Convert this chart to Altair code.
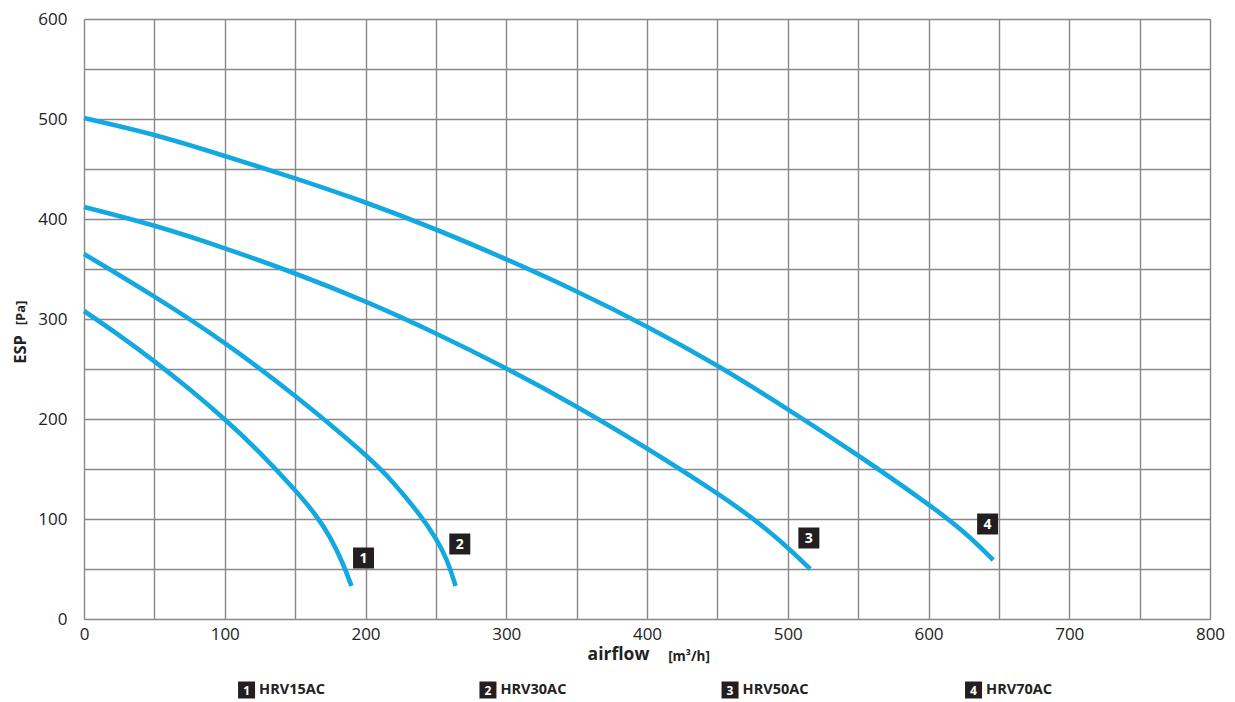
import altair as alt
import pandas as pd

# ---- data ----
c1_x = [0, 25, 50, 75, 100, 125, 150, 165, 175, 184, 190]
c1_y = [308, 284, 258, 230, 200, 167, 129, 104, 82, 56, 33]

c2_x = [0, 50, 100, 150, 200, 220, 240, 250, 258, 264]
c2_y = [365, 323, 277, 224, 165, 137, 102, 81, 60, 33]

c3_x = [0, 50, 100, 150, 200, 250, 300, 350, 400, 450, 475, 495, 516]
c3_y = [412, 394, 371, 346, 318, 286, 251, 213, 171, 126, 101, 78, 50]

c4_x = [0, 50, 100, 150, 200, 250, 300, 350, 400, 450, 500, 550, 600, 625, 646]
c4_y = [501, 485, 463, 441, 417, 390, 360, 328, 293, 254, 210, 164, 115, 88, 59]

series_ids = ["1", "2", "3", "4"]
series_names = ["HRV15AC", "HRV30AC", "HRV50AC", "HRV70AC"]

# number badges next to curve ends (data units)
badge_x = [198.6, 267, 515, 642]
badge_y = [61, 75, 81, 95]

# legend row below the axis (data units)
legend_x = [115.5, 287, 459, 632]
legend_y = [-71, -71, -71, -71]

x_ticks = list(range(0, 801, 50))
y_ticks = list(range(0, 601, 50))

BLUE = "#13a8e0"
GRID = "#888888"
FONT = "Open Sans"

rows = []
for sid, xs, ys in zip(series_ids, [c1_x, c2_x, c3_x, c4_x], [c1_y, c2_y, c3_y, c4_y]):
    for i, (a, b) in enumerate(zip(xs, ys)):
        rows.append({"series": sid, "order": i, "airflow": a, "esp": b})
curves = pd.DataFrame(rows)

badges = pd.DataFrame({"id": series_ids, "x": badge_x, "y": badge_y})
legend = pd.DataFrame({"id": series_ids, "name": series_names, "x": legend_x, "y": legend_y})

xscale = alt.Scale(domain=[0, 800], nice=False, zero=False)
yscale = alt.Scale(domain=[0, 600], nice=False, zero=False)

x_axis = alt.Axis(values=x_ticks, labelExpr="datum.value % 100 == 0 ? datum.label : ''",
                  grid=True, gridColor=GRID, gridWidth=1.4, gridOpacity=1,
                  ticks=False, domain=False, labelPadding=7, labelFontSize=17,
                  labelFlush=False, labelOverlap=False,
                  labelFont=FONT, labelColor="#222", title="airflow",
                  titleFont=FONT, titleFontSize=17.5, titleFontWeight="bold",
                  titleColor="#222", titleX=534, titleAlign="center", titlePadding=3)
y_axis = alt.Axis(values=y_ticks, labelExpr="datum.value % 100 == 0 ? datum.label : ''",
                  grid=True, gridColor=GRID, gridWidth=1.4, gridOpacity=1,
                  ticks=False, domain=False, labelPadding=17, labelFontSize=17,
                  labelFlush=False, labelOverlap=False,
                  labelFont=FONT, labelColor="#222", title="ESP",
                  titleFont=FONT, titleFontSize=16.5, titleFontWeight="bold",
                  titleColor="#222", titleAngle=270, titleX=-59, titleY=330,
                  titleAlign="center", titleBaseline="alphabetic")

lines = alt.Chart(curves).mark_line(color=BLUE, strokeWidth=4.6, interpolate="basis",
                                    strokeCap="butt").encode(
    x=alt.X("airflow:Q", scale=xscale, axis=x_axis),
    y=alt.Y("esp:Q", scale=yscale, axis=y_axis),
    detail="series:N",
    order="order:Q",
)

badge_sq = alt.Chart(badges).mark_square(size=441, color="#231f20", opacity=1).encode(
    x=alt.X("x:Q", scale=xscale), y=alt.Y("y:Q", scale=yscale))
badge_tx = alt.Chart(badges).mark_text(color="white", font=FONT, fontWeight="bold",
                                       fontSize=14, baseline="middle", align="center", dy=1).encode(
    x=alt.X("x:Q", scale=xscale), y=alt.Y("y:Q", scale=yscale), text="id:N")

leg_sq = alt.Chart(legend).mark_square(size=289, color="#231f20", opacity=1).encode(
    x=alt.X("x:Q", scale=xscale), y=alt.Y("y:Q", scale=yscale))
leg_num = alt.Chart(legend).mark_text(color="white", font=FONT, fontWeight="bold",
                                      fontSize=12, baseline="middle", align="center", dy=1).encode(
    x=alt.X("x:Q", scale=xscale), y=alt.Y("y:Q", scale=yscale), text="id:N")
leg_name = alt.Chart(legend).mark_text(color="#222", font=FONT, fontWeight="bold",
                                       fontSize=14.5, baseline="middle", align="left", dx=12.5).encode(
    x=alt.X("x:Q", scale=xscale), y=alt.Y("y:Q", scale=yscale), text="name:N")

unit_df = pd.DataFrame({"t": ["[Pa]"]})
unit_y = alt.Chart(unit_df).mark_text(font=FONT, fontWeight="bold", fontSize=13, angle=270,
                                      align="center", baseline="alphabetic", color="#222").encode(
    x=alt.value(-59), y=alt.value(294), text="t:N")
unit_df2 = pd.DataFrame({"t": ["[m³/h]"]})
unit_x = alt.Chart(unit_df2).mark_text(font=FONT, fontWeight="bold", fontSize=13.5,
                                       align="center", baseline="alphabetic", color="#222").encode(
    x=alt.value(605), y=alt.value(642), text="t:N")

chart = alt.layer(lines, badge_sq, badge_tx, leg_sq, leg_num, leg_name, unit_y, unit_x).properties(
    width=1126, height=600,
    autosize=alt.AutoSizeParams(type="none"),
    padding={"left": 76, "top": 11, "right": 17, "bottom": 80},
).configure_view(stroke=GRID, strokeWidth=1.4).configure(background="white")

chart.save("out.html", embed_options={"renderer": "svg", "actions": False})
